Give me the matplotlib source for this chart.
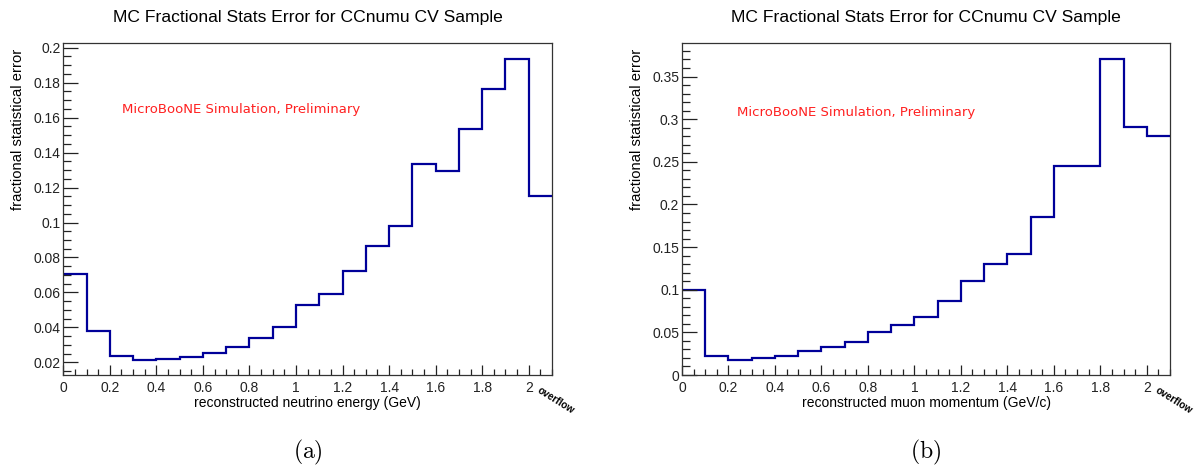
import numpy as np
import matplotlib
matplotlib.use("Agg")
import matplotlib.pyplot as plt
from matplotlib.ticker import MultipleLocator, FuncFormatter

plt.rcParams['font.family'] = ['Liberation Sans', 'DejaVu Sans']
plt.rcParams['mathtext.fontset'] = 'cm'

# bin edges, last bin (2.0-2.1) is the overflow bin
bin_edges = np.linspace(0.0, 2.1, 22)

# fractional stat error, reconstructed neutrino energy
energy_err = [0.0705, 0.0381, 0.0236, 0.0213, 0.0219, 0.0230, 0.0255,
              0.0290, 0.0341, 0.0404, 0.0526, 0.0592, 0.0720, 0.0867,
              0.0979, 0.1337, 0.1295, 0.1537, 0.1766, 0.1937, 0.1149]

# fractional stat error, reconstructed muon momentum
momentum_err = [0.1000, 0.0218, 0.0175, 0.0195, 0.0226, 0.0277, 0.0331,
                0.0390, 0.0503, 0.0588, 0.0678, 0.0865, 0.1099, 0.1306,
                0.1415, 0.1849, 0.2446, 0.2446, 0.3709, 0.2907, 0.2802]

title = "MC Fractional Stats Error for CCnumu CV Sample"
ylabel = "fractional statistical error"
xlabels = ["reconstructed neutrino energy (GeV)",
           "reconstructed muon momentum (GeV/c)"]
captions = ["(a)", "(b)"]
stamp = "MicroBooNE Simulation, Preliminary"

fig = plt.figure(figsize=(11.94, 4.68), dpi=100)

panels = [
    dict(rect=[0.053, 0.1987, 0.4093, 0.7088], vals=energy_err,
         ylim=(0.0128, 0.2025), ymaj=0.02, ymin=0.005, stamp_xy=(0.12, 0.80)),
    dict(rect=[0.5712, 0.1987, 0.4087, 0.7088], vals=momentum_err,
         ylim=(0.0, 0.389), ymaj=0.05, ymin=0.01, stamp_xy=(0.113, 0.79)),
]

fmt = FuncFormatter(lambda v, p: "%g" % round(v, 4))

for i, p in enumerate(panels):
    ax = fig.add_axes(p['rect'])
    ax.stairs(p['vals'], bin_edges, color='#000099', lw=1.6, baseline=None)
    ax.set_xlim(0, 2.1)
    ax.set_ylim(*p['ylim'])

    ax.xaxis.set_major_locator(MultipleLocator(0.2))
    ax.xaxis.set_minor_locator(MultipleLocator(0.05))
    ax.yaxis.set_major_locator(MultipleLocator(p['ymaj']))
    ax.yaxis.set_minor_locator(MultipleLocator(p['ymin']))
    ax.xaxis.set_major_formatter(fmt)
    ax.yaxis.set_major_formatter(fmt)

    ax.tick_params(axis='both', which='both', direction='in', top=False,
                   right=False, labelsize=10, colors='#222222', width=0.9)
    ax.tick_params(axis='x', which='major', length=7.5, pad=4)
    ax.tick_params(axis='x', which='minor', length=4)
    ax.tick_params(axis='y', which='major', length=10.5, pad=2)
    ax.tick_params(axis='y', which='minor', length=5.5)
    for s in ax.spines.values():
        s.set_linewidth(0.9)
        s.set_color('#333333')

    ax.set_xlabel(xlabels[i], fontsize=10, labelpad=1)
    ax.set_ylabel(ylabel, fontsize=10.6, loc='top')
    ax.yaxis.set_label_coords(-0.078, 0.985)
    ax.set_title(title, fontsize=12.6, pad=15)

    ax.text(*p['stamp_xy'], stamp, transform=ax.transAxes, color='#ff2020',
            fontsize=9.5, family='DejaVu Sans', ha='left', va='center')
    ax.text(0.978, -0.03, "overflow", transform=ax.transAxes, fontsize=7.3,
            fontweight='bold', rotation=-32, ha='left', va='top',
            rotation_mode='anchor')

    x0, w = p['rect'][0], p['rect'][2]
    fig.text(x0 + w / 2, 0.034, r"$\mathrm{" + captions[i] + "}$",
             fontsize=17, ha='center', va='center')

fig.savefig("out.png", dpi=100)
